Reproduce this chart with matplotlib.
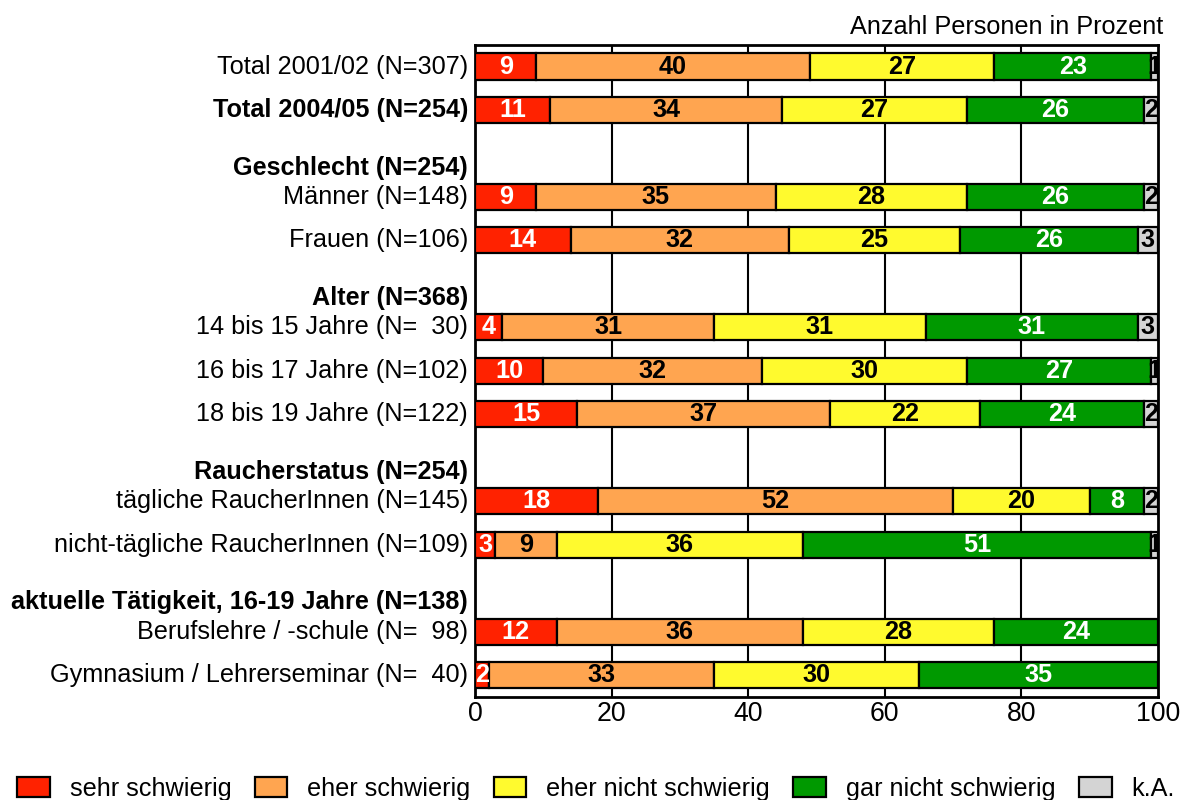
import numpy as np
import matplotlib.pyplot as plt
from matplotlib.patches import Patch

plt.rcParams['font.family'] = ['Liberation Sans', 'DejaVu Sans']

# Row labels (None value rows are group headers without a bar)
labels = [
    "Total 2001/02 (N=307)",
    "Total 2004/05 (N=254)",
    "Geschlecht (N=254)",
    "Männer (N=148)",
    "Frauen (N=106)",
    "Alter (N=368)",
    "14 bis 15 Jahre (N=  30)",
    "16 bis 17 Jahre (N=102)",
    "18 bis 19 Jahre (N=122)",
    "Raucherstatus (N=254)",
    "tägliche RaucherInnen (N=145)",
    "nicht-tägliche RaucherInnen (N=109)",
    "aktuelle Tätigkeit, 16-19 Jahre (N=138)",
    "Berufslehre / -schule (N=  98)",
    "Gymnasium / Lehrerseminar (N=  40)",
]
headers = [2, 5, 9, 12]
bold_rows = [1, 2, 5, 9, 12]

categories = ["sehr schwierig", "eher schwierig", "eher nicht schwierig",
              "gar nicht schwierig", "k.A."]

sehr_schwierig  = [9, 11, None, 9, 14, None, 4, 10, 15, None, 18, 3, None, 12, 2]
eher_schwierig  = [40, 34, None, 35, 32, None, 31, 32, 37, None, 52, 9, None, 36, 33]
eher_nicht      = [27, 27, None, 28, 25, None, 31, 30, 22, None, 20, 36, None, 28, 30]
gar_nicht       = [23, 26, None, 26, 26, None, 31, 27, 24, None, 8, 51, None, 24, 35]
keine_angabe    = [1, 2, None, 2, 3, None, 3, 1, 2, None, 2, 1, None, 0, 0]

series = [sehr_schwierig, eher_schwierig, eher_nicht, gar_nicht, keine_angabe]
colors = ["#FF2200", "#FFA550", "#FFFA2E", "#009900", "#D4D4D4"]
text_colors = ["white", "black", "black", "white", "black"]

fig = plt.figure(figsize=(11.8, 8), dpi=100)
ax = fig.add_axes([0.4025, 0.129, 0.5789, 0.815])

fs = 18.2
rows = [i for i in range(len(labels)) if i not in headers]
left = np.zeros(len(labels))
for vals, col, tcol in zip(series, colors, text_colors):
    for i in rows:
        v = vals[i]
        if v == 0:
            continue
        ax.barh(i, v, left=left[i], height=0.6, color=col,
                edgecolor="black", linewidth=1.6, zorder=3)
        ax.text(left[i] + v / 2, i, str(v), ha="center", va="center",
                color=tcol, fontsize=fs, fontweight="bold", zorder=4,
                clip_on=True)
        left[i] += v

ax.set_xlim(0, 100)
ax.set_ylim(len(labels) - 0.5, -0.5)
ax.set_xticks([0, 20, 40, 60, 80, 100])
ax.tick_params(axis="x", length=0, labelsize=fs + 1, pad=3)
ax.set_yticks([])
for x in [20, 40, 60, 80]:
    ax.axvline(x, color="black", linewidth=1.5, zorder=1)
for s in ax.spines.values():
    s.set_linewidth(2)

for i, lab in enumerate(labels):
    y = i + 0.33 if i in headers else i
    ax.text(-1.0, y, lab, ha="right", va="center", fontsize=fs,
            fontweight="bold" if i in bold_rows else "normal",
            transform=ax.transData, clip_on=False)

fig.text(0.986, 0.966, "Anzahl Personen in Prozent", ha="right", va="center",
         fontsize=fs)

handles = [Patch(facecolor=c, edgecolor="black", linewidth=1.6) for c in colors]
fig.legend(handles, categories, loc="center", bbox_to_anchor=(0.505, 0.014),
           ncol=5, frameon=False, fontsize=fs, handlelength=1.3,
           handleheight=0.85, handletextpad=0.79, columnspacing=0.91,
           borderaxespad=0, borderpad=0)

fig.savefig("out.png", dpi=100)
